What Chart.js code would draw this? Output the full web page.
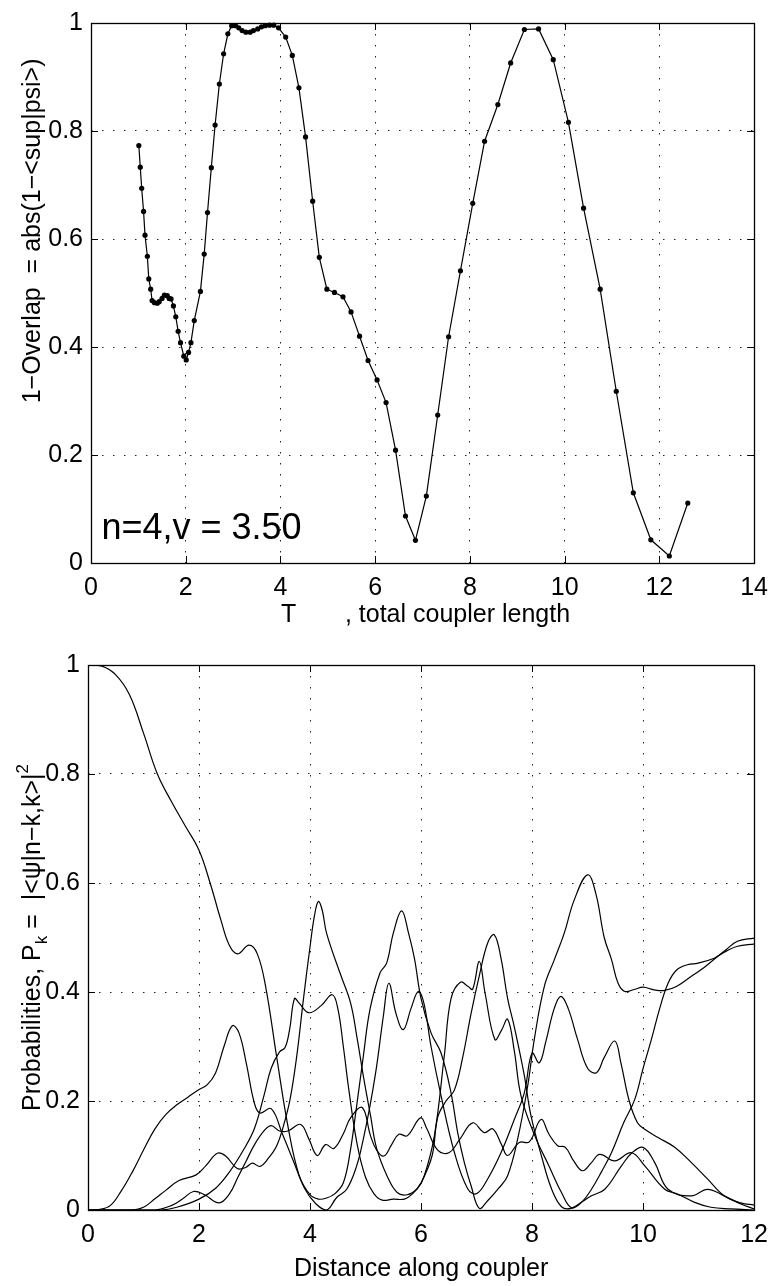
<!DOCTYPE html>
<html>
<head>
<meta charset="utf-8">
<script src="https://cdn.jsdelivr.net/npm/chart.js@4.4.1/dist/chart.umd.min.js"></script>
<style>
  html, body { margin: 0; padding: 0; background: #fff; }
  #wrap { position: relative; width: 778px; height: 1286px; }
  canvas { position: absolute; left: 0; }
  #overlapChart { top: 0; }
  #probChart { top: 640px; }
</style>
</head>
<body>
<div id="wrap">
  <canvas id="overlapChart" width="778" height="640"></canvas>
  <canvas id="probChart" width="778" height="646"></canvas>
</div>
<script>
const FONT = '"Liberation Sans", Arial, Helvetica, sans-serif';

// top plot: 1 - overlap vs total coupler length
const overlapT = [1.01, 1.04, 1.07, 1.11, 1.14, 1.19, 1.22, 1.26, 1.29, 1.34, 1.40, 1.44, 1.50, 1.55, 1.61,
    1.65, 1.69, 1.74, 1.79, 1.84, 1.89, 1.96, 2.01, 2.06, 2.11, 2.18, 2.31, 2.39, 2.46, 2.54,
    2.62, 2.71, 2.80, 2.89, 2.97, 3.05, 3.12, 3.19, 3.27, 3.36, 3.43, 3.52, 3.60, 3.68, 3.77,
    3.86, 3.96, 4.11, 4.25, 4.39, 4.53, 4.68, 4.82, 4.98, 5.14, 5.32, 5.49, 5.67, 5.85, 6.04,
    6.23, 6.43, 6.64, 6.85, 7.08, 7.32, 7.55, 7.80, 8.06, 8.31, 8.59, 8.86, 9.15, 9.45, 9.76,
    10.08, 10.40, 10.75, 11.09, 11.45, 11.82, 12.21, 12.60];
const overlapVal = [0.773, 0.733, 0.694, 0.651, 0.607, 0.568, 0.526, 0.507, 0.486, 0.482, 0.481, 0.484, 0.490, 0.496, 0.495,
    0.490, 0.489, 0.476, 0.456, 0.429, 0.408, 0.383, 0.376, 0.390, 0.408, 0.449, 0.503, 0.572, 0.649, 0.732,
    0.811, 0.887, 0.943, 0.980, 0.995, 0.995, 0.991, 0.986, 0.983, 0.983, 0.986, 0.989, 0.993, 0.995, 0.996,
    0.996, 0.991, 0.974, 0.940, 0.880, 0.789, 0.670, 0.566, 0.507, 0.501, 0.493, 0.465, 0.420, 0.375, 0.339,
    0.297, 0.209, 0.087, 0.042, 0.124, 0.274, 0.419, 0.541, 0.666, 0.781, 0.849, 0.926, 0.988, 0.989, 0.932,
    0.816, 0.657, 0.507, 0.318, 0.130, 0.043, 0.013, 0.111];
const overlapXTicks = [0, 2, 4, 6, 8, 10, 12, 14];
const probXTicks = [0, 2, 4, 6, 8, 10, 12];
const yTicks = [0, 0.2, 0.4, 0.6, 0.8, 1];

// bottom plot: P_k along the coupler (five curves)
const p0Dist = [0, 0.25, 0.5, 0.75, 1.0, 1.25, 1.5, 1.75, 2.0, 2.2, 2.4, 2.55, 2.7, 2.9, 3.05, 3.2, 3.4, 3.6, 3.8, 4.0,
    4.15, 4.3, 4.45, 4.6, 4.72, 4.84, 4.96, 5.08, 5.26, 5.38, 5.5, 5.65, 5.77, 5.88, 6.0, 6.18, 6.36, 6.54, 6.66, 6.78,
    6.9, 7.05, 7.2, 7.4, 7.56, 7.74, 7.92, 8.04, 8.22, 8.4, 8.58, 8.76, 9.0, 9.15, 9.3, 9.43, 9.55, 9.67, 9.85, 10.0,
    10.2, 10.39, 10.6, 10.87, 11.1, 11.28, 11.5, 11.7, 12];
const p0Prob = [1, 0.998, 0.982, 0.945, 0.875, 0.80, 0.75, 0.705, 0.66, 0.60, 0.53, 0.485, 0.47, 0.486, 0.47, 0.41, 0.28, 0.155, 0.065, 0.028,
    0.02, 0.022, 0.03, 0.05, 0.105, 0.191, 0.282, 0.368, 0.435, 0.453, 0.508, 0.549, 0.51, 0.462, 0.388, 0.325, 0.288, 0.215, 0.142, 0.087,
    0.045, 0.003, 0.017, 0.04, 0.063, 0.13, 0.227, 0.313, 0.41, 0.459, 0.508, 0.569, 0.615, 0.58, 0.5, 0.46, 0.416, 0.401, 0.405, 0.409,
    0.404, 0.403, 0.41, 0.429, 0.445, 0.46, 0.478, 0.493, 0.499];

const p1Dist = [0, 0.2, 0.4, 0.6, 0.8, 1.0, 1.2, 1.4, 1.6, 1.8, 2.0, 2.15, 2.3, 2.45, 2.6, 2.72, 2.85, 3.0, 3.1, 3.3,
    3.5, 3.7, 3.9, 4.1, 4.3, 4.48, 4.66, 4.84, 4.96, 5.08, 5.2, 5.32, 5.42, 5.55, 5.68, 5.82, 5.95, 6.05, 6.18, 6.36,
    6.6, 6.84, 7.0, 7.2, 7.44, 7.68, 7.86, 8.0, 8.13, 8.25, 8.4, 8.52, 8.65, 8.82, 9.0, 9.16, 9.3, 9.49, 9.6, 9.75,
    9.9, 10.03, 10.27, 10.57, 10.87, 11.16, 11.46, 11.76, 12];
const p1Prob = [0, 0.001, 0.008, 0.035, 0.07, 0.11, 0.148, 0.175, 0.193, 0.207, 0.221, 0.23, 0.252, 0.3, 0.338, 0.325, 0.27, 0.195, 0.178, 0.186,
    0.14, 0.09, 0.04, 0.012, 0.0, 0.023, 0.038, 0.081, 0.13, 0.191, 0.264, 0.355, 0.416, 0.36, 0.331, 0.37, 0.401, 0.38, 0.3, 0.21,
    0.106, 0.039, 0.03, 0.057, 0.105, 0.166, 0.215, 0.288, 0.27, 0.31, 0.37, 0.392, 0.37, 0.313, 0.26, 0.252, 0.28, 0.31, 0.27, 0.2,
    0.16, 0.148, 0.133, 0.115, 0.087, 0.057, 0.026, 0.013, 0.009];

const p2Dist = [0, 0.8, 1.0, 1.2, 1.4, 1.64, 1.94, 2.12, 2.33, 2.48, 2.69, 2.84, 2.96, 3.1, 3.25, 3.4, 3.52, 3.64, 3.76, 3.88,
    4.0, 4.08, 4.15, 4.22, 4.3, 4.55, 4.73, 4.85, 4.97, 5.09, 5.2, 5.39, 5.57, 5.75, 5.93, 6.05, 6.24, 6.42, 6.54, 6.71,
    6.85, 6.93, 7.05, 7.15, 7.33, 7.45, 7.56, 7.68, 7.8, 8.05, 8.29, 8.53, 8.71, 8.9, 9.07, 9.25, 9.43, 9.65, 9.85, 10.0,
    10.15, 10.3, 10.45, 10.6, 10.8, 10.99, 11.28, 11.5, 11.7, 12];
const p2Prob = [0, 0, 0.005, 0.02, 0.036, 0.054, 0.064, 0.081, 0.104, 0.099, 0.076, 0.078, 0.086, 0.08, 0.095, 0.118, 0.154, 0.203, 0.282, 0.386,
    0.483, 0.54, 0.566, 0.55, 0.507, 0.432, 0.38, 0.314, 0.24, 0.173, 0.113, 0.062, 0.032, 0.028, 0.039, 0.06, 0.136, 0.284, 0.388, 0.418,
    0.41, 0.405, 0.456, 0.4, 0.313, 0.33, 0.35, 0.292, 0.21, 0.136, 0.084, 0.032, 0.004, 0.015, 0.038, 0.07, 0.105, 0.16, 0.203, 0.26,
    0.313, 0.37, 0.416, 0.44, 0.45, 0.453, 0.462, 0.475, 0.484, 0.488];

const p3Dist = [0, 1.3, 1.6, 2.0, 2.3, 2.55, 2.8, 3.0, 3.17, 3.3, 3.45, 3.55, 3.63, 3.72, 3.8, 3.98, 4.2, 4.4, 4.5, 4.6,
    4.7, 4.85, 5.0, 5.15, 5.3, 5.5, 5.7, 5.85, 6.0, 6.2, 6.3, 6.45, 6.6, 6.75, 6.9, 7.05, 7.2, 7.32, 7.44, 7.56,
    7.68, 7.86, 7.98, 8.17, 8.35, 8.53, 8.7, 8.9, 9.07, 9.31, 9.61, 9.8, 10.0, 10.21, 10.45, 10.87, 11.16, 11.46, 11.76, 12];
const p3Prob = [0, 0, 0.005, 0.02, 0.04, 0.07, 0.11, 0.15, 0.21, 0.26, 0.29, 0.298, 0.33, 0.388, 0.38, 0.362, 0.375, 0.395, 0.37, 0.3,
    0.22, 0.12, 0.06, 0.03, 0.018, 0.02, 0.02, 0.03, 0.05, 0.1, 0.17, 0.2, 0.22, 0.28, 0.36, 0.43, 0.49, 0.505, 0.462, 0.388,
    0.336, 0.247, 0.173, 0.099, 0.039, 0.006, 0.003, 0.015, 0.026, 0.038, 0.081, 0.105, 0.115, 0.087, 0.038, 0.026, 0.038, 0.026, 0.011, 0.002];

const p4Dist = [0, 1.2, 1.5, 1.7, 1.9, 2.1, 2.36, 2.55, 2.7, 2.85, 3.0, 3.17, 3.3, 3.45, 3.6, 3.83, 3.98, 4.13, 4.28, 4.43,
    4.6, 4.73, 4.94, 5.09, 5.2, 5.33, 5.47, 5.6, 5.75, 5.99, 6.1, 6.3, 6.5, 6.7, 6.93, 7.14, 7.29, 7.45, 7.56, 7.77,
    7.95, 8.16, 8.3, 8.46, 8.6, 8.75, 8.91, 9.07, 9.22, 9.49, 9.79, 10.03, 10.39, 10.63, 10.93, 11.22, 11.58, 12];
const p4Prob = [0, 0, 0.008, 0.02, 0.034, 0.028, 0.013, 0.03, 0.06, 0.09, 0.12, 0.145, 0.155, 0.145, 0.145, 0.157, 0.13, 0.10, 0.12, 0.113,
    0.14, 0.169, 0.188, 0.136, 0.11, 0.099, 0.12, 0.139, 0.136, 0.169, 0.15, 0.11, 0.105, 0.13, 0.16, 0.142, 0.149, 0.12, 0.1, 0.124,
    0.125, 0.166, 0.14, 0.118, 0.115, 0.09, 0.072, 0.087, 0.102, 0.09, 0.105, 0.081, 0.038, 0.029, 0.014, 0.005, 0.002, 0];

const toPoints = (xs, ys) => xs.map((x, i) => ({ x: x, y: ys[i] }));

// axis titles and notes, kept outside chart options so Chart.js doesn't proxy them
const frameText = {
    overlapChart: {
        xTitle: [{ text: 'T       , total coupler length', size: 25 }],
        xShift: 3, xGap: 59,
        yTitle: [{ text: '1\u2212Overlap  = abs(1\u2212<sup|psi>)', size: 25 }],
        yBase: 40, yCenter: 0.385,
        note: { text: 'n=4,v = 3.50', size: 36, x: 0.22, y: 0.045 }
    },
    probChart: {
        xTitle: [{ text: 'Distance along coupler', size: 25 }],
        xShift: 0, xGap: 66,
        yTitle: [
            { text: 'Probabilities, P', size: 25 },
            { text: 'k', size: 17, shift: 7 },
            { text: ' =  |<\u03c8|n\u2212k,k>|', size: 25 },
            { text: '2', size: 17, shift: -12 }
        ],
        yBase: 40, yCenter: 0.5
    }
};

// draws a row of text pieces (sub/superscripts), centred on (x, y), optionally rotated
function drawPieces(ctx, pieces, x, y, rotated) {
    const widths = pieces.map(p => {
        ctx.font = p.size + 'px ' + FONT;
        return ctx.measureText(p.text).width;
    });
    const total = widths.reduce((a, b) => a + b, 0);
    ctx.save();
    ctx.translate(x, y);
    if (rotated) ctx.rotate(-Math.PI / 2);
    ctx.textAlign = 'left';
    ctx.textBaseline = 'alphabetic';
    ctx.fillStyle = '#000';
    let cx = -total / 2;
    pieces.forEach((p, i) => {
        ctx.font = p.size + 'px ' + FONT;
        ctx.fillText(p.text, cx, p.shift || 0);
        cx += widths[i];
    });
    ctx.restore();
}

// matlab style box, inward ticks, axis titles
const matlabFrame = {
    id: 'matlabFrame',
    afterDraw(chart) {
        const { ctx, chartArea: a, scales } = chart;
        const cfg = frameText[chart.canvas.id];
        ctx.save();
        ctx.strokeStyle = '#000';
        ctx.lineWidth = 1;
        ctx.beginPath();
        scales.x.ticks.forEach(t => {
            const px = Math.round(scales.x.getPixelForValue(t.value)) + 0.5;
            ctx.moveTo(px, a.bottom); ctx.lineTo(px, a.bottom - 7);
            ctx.moveTo(px, a.top); ctx.lineTo(px, a.top + 7);
        });
        scales.y.ticks.forEach(t => {
            const py = Math.round(scales.y.getPixelForValue(t.value)) + 0.5;
            ctx.moveTo(a.left, py); ctx.lineTo(a.left + 7, py);
            ctx.moveTo(a.right, py); ctx.lineTo(a.right - 7, py);
        });
        ctx.stroke();
        ctx.lineWidth = 1.3;
        ctx.strokeRect(Math.round(a.left) + 0.5, Math.round(a.top) + 0.5, Math.round(a.width), Math.round(a.height));

        drawPieces(ctx, cfg.xTitle, (a.left + a.right) / 2 + cfg.xShift, a.bottom + cfg.xGap, false);
        drawPieces(ctx, cfg.yTitle, cfg.yBase, a.top + a.height * cfg.yCenter, true);

        if (cfg.note) {
            ctx.font = cfg.note.size + 'px ' + FONT;
            ctx.fillStyle = '#000';
            ctx.textAlign = 'left';
            ctx.textBaseline = 'alphabetic';
            ctx.fillText(cfg.note.text, scales.x.getPixelForValue(cfg.note.x), scales.y.getPixelForValue(cfg.note.y));
        }
        ctx.restore();
    }
};

function axisScales(xMax, xTicks, xHeight, yWidth) {
    const tickFont = { family: FONT, size: 25 };
    const fmt = v => String(Math.round(v * 10) / 10);
    return {
        x: {
            type: 'linear', min: 0, max: xMax,
            afterBuildTicks: s => { s.ticks = xTicks.map(v => ({ value: v })); },
            afterFit: s => { s.height = xHeight; },
            grid: { color: '#222', lineWidth: 1, drawTicks: false },
            border: { display: false, dash: [1.5, 9.5] },
            ticks: { color: '#000', font: tickFont, padding: 10, maxRotation: 0, autoSkip: false, callback: fmt }
        },
        y: {
            type: 'linear', min: 0, max: 1,
            afterBuildTicks: s => { s.ticks = yTicks.map(v => ({ value: v })); },
            afterFit: s => { s.width = yWidth; },
            grid: { color: '#222', lineWidth: 1, drawTicks: false },
            border: { display: false, dash: [1.5, 9.5] },
            ticks: { color: '#000', font: tickFont, padding: 8, autoSkip: false, callback: fmt }
        }
    };
}

// TOP CHART
new Chart(document.getElementById('overlapChart'), {
    type: 'line',
    data: {
        datasets: [{
            data: toPoints(overlapT, overlapVal),
            borderColor: '#000',
            borderWidth: 1.2,
            pointRadius: 2.6,
            pointBackgroundColor: '#000',
            pointBorderWidth: 0,
            tension: 0,
            clip: 4
        }]
    },
    options: {
        responsive: false,
        animation: false,
        devicePixelRatio: 1,
        layout: { padding: { left: 0, top: 18, right: 18, bottom: 0 } },
        scales: axisScales(14, overlapXTicks, 77, 91),
        plugins: { legend: { display: false }, tooltip: { enabled: false } }
    },
    plugins: [matlabFrame]
});

// BOTTOM CHART
const lineStyle = { borderColor: '#000', borderWidth: 1.2, pointRadius: 0, tension: 0.4, fill: false };
new Chart(document.getElementById('probChart'), {
    type: 'line',
    data: {
        datasets: [
            { data: toPoints(p0Dist, p0Prob), ...lineStyle },
            { data: toPoints(p1Dist, p1Prob), ...lineStyle },
            { data: toPoints(p2Dist, p2Prob), ...lineStyle },
            { data: toPoints(p3Dist, p3Prob), ...lineStyle },
            { data: toPoints(p4Dist, p4Prob), ...lineStyle }
        ]
    },
    options: {
        responsive: false,
        animation: false,
        devicePixelRatio: 1,
        layout: { padding: { left: 0, top: 25, right: 23, bottom: 0 } },
        scales: axisScales(12, probXTicks, 76, 88),
        plugins: { legend: { display: false }, tooltip: { enabled: false } }
    },
    plugins: [matlabFrame]
});
</script>
</body>
</html>
